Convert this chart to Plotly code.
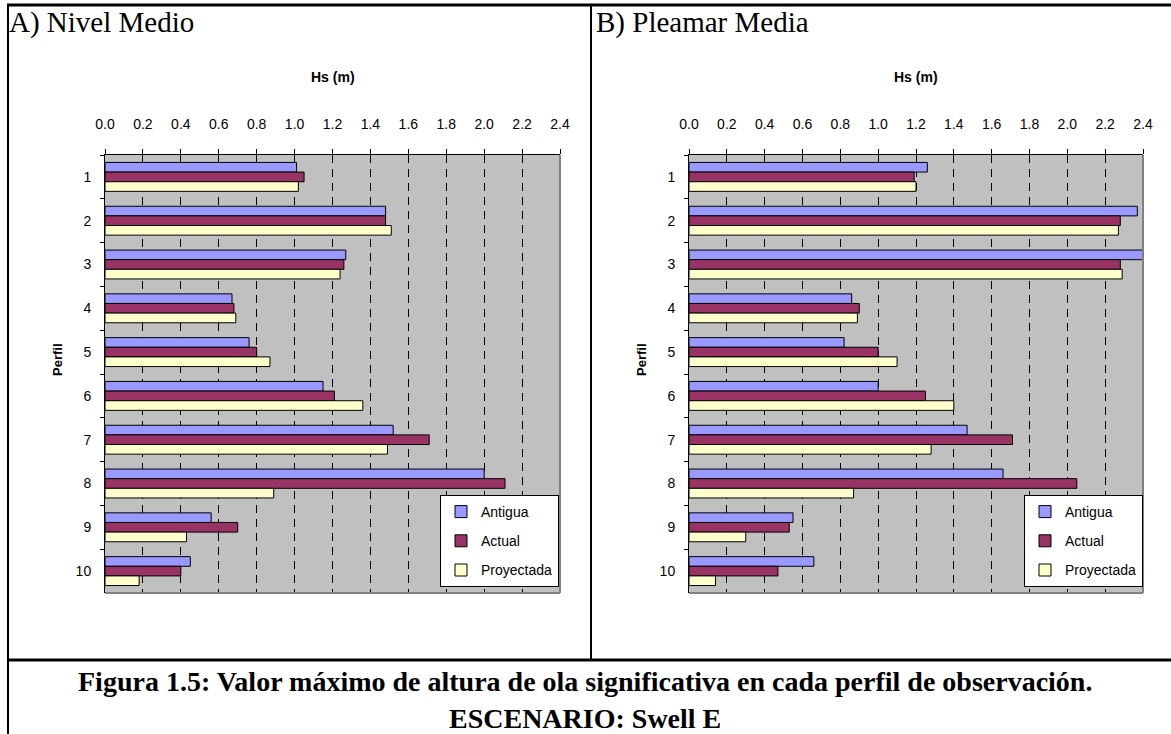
import plotly.graph_objects as go

W, H = 1171, 734

perfiles = ["1", "2", "3", "4", "5", "6", "7", "8", "9", "10"]
series_names = ["Antigua", "Actual", "Proyectada"]
series_colors = ["#9999FF", "#993366", "#FFFFCC"]

# A) Nivel Medio
nivel_antigua = [1.01, 1.48, 1.27, 0.67, 0.76, 1.15, 1.52, 2.00, 0.56, 0.45]
nivel_actual = [1.05, 1.48, 1.26, 0.68, 0.80, 1.21, 1.71, 2.11, 0.70, 0.40]
nivel_proyectada = [1.02, 1.51, 1.24, 0.69, 0.87, 1.36, 1.49, 0.89, 0.43, 0.18]

# B) Pleamar Media
pleamar_antigua = [1.26, 2.37, 2.42, 0.86, 0.82, 1.00, 1.47, 1.66, 0.55, 0.66]
pleamar_actual = [1.19, 2.28, 2.28, 0.90, 1.00, 1.25, 1.71, 2.05, 0.53, 0.47]
pleamar_proyectada = [1.20, 2.27, 2.29, 0.89, 1.10, 1.40, 1.28, 0.87, 0.30, 0.14]

x_ticks = [0.0, 0.2, 0.4, 0.6, 0.8, 1.0, 1.2, 1.4, 1.6, 1.8, 2.0, 2.2, 2.4]

panel_titles = ["A) Nivel Medio", "B) Pleamar Media"]
x_title = "Hs (m)"
y_title = "Perfil"
caption_1 = "Figura 1.5: Valor máximo de altura de ola significativa en cada perfil de observación."
caption_2 = "ESCENARIO: Swell E"

SANS = "Liberation Sans, Arial, sans-serif"
SERIF = "Liberation Serif, Times New Roman, serif"


def px(x):
    return x / W


def py(y):
    return 1 - y / H


fig = go.Figure()

panels = [
    ([nivel_antigua, nivel_actual, nivel_proyectada], "x", "y", "legend"),
    ([pleamar_antigua, pleamar_actual, pleamar_proyectada], "x2", "y2", "legend2"),
]
for vals, xa, ya, lg in panels:
    for name, color, v in zip(series_names, series_colors, vals):
        fig.add_trace(go.Bar(
            x=v, y=perfiles, orientation="h", name=name,
            marker=dict(color=color, line=dict(color="black", width=1)),
            xaxis=xa, yaxis=ya, legend=lg, legendgroup=name + lg,
            hoverinfo="x+name",
        ))

plot_top, plot_bottom = 155, 593
x_domains = [(105, 560), (689, 1143)]

axis_common_x = dict(
    range=[0, 2.4], side="top", tickvals=x_ticks, tickformat=".1f",
    ticks="outside", ticklen=5, tickcolor="black", tickwidth=1,
    showline=True, linecolor="black", linewidth=1,
    showgrid=True, gridcolor="black", gridwidth=1, griddash="8px,6px",
    tickfont=dict(family=SANS, size=14, color="black"),
    ticklabelstandoff=14, zeroline=False, fixedrange=True, automargin=False,
)
axis_common_y = dict(
    type="category", categoryorder="array", categoryarray=perfiles,
    autorange="reversed", ticks="outside", ticklen=4, tickcolor="black",
    tickson="boundaries", showline=True, linecolor="black", linewidth=1,
    showgrid=False, tickfont=dict(family=SANS, size=14, color="black"),
    ticklabelstandoff=10, fixedrange=True, automargin=False,
)

legend_common = dict(
    xanchor="left", yanchor="top", bgcolor="white", bordercolor="black", borderwidth=1,
    font=dict(family=SANS, size=14, color="black"),
    tracegroupgap=8, traceorder="grouped", itemwidth=30,
)

fig.update_layout(
    width=W, height=H, margin=dict(l=0, r=0, t=0, b=0, pad=0, autoexpand=False),
    paper_bgcolor="white", plot_bgcolor="#C0C0C0",
    barmode="group", bargap=0.34, bargroupgap=0,
    xaxis=dict(domain=[px(x_domains[0][0]), px(x_domains[0][1])], anchor="y", **axis_common_x),
    yaxis=dict(domain=[py(plot_bottom), py(plot_top)], anchor="x", **axis_common_y),
    xaxis2=dict(domain=[px(x_domains[1][0]), px(x_domains[1][1])], anchor="y2", **axis_common_x),
    yaxis2=dict(domain=[py(plot_bottom), py(plot_top)], anchor="x2", **axis_common_y),
    legend=dict(x=px(440), y=py(495), **legend_common),
    legend2=dict(x=px(1024), y=py(495), **legend_common),
    showlegend=True,
)

annotations = []
# panel titles
for title, x0 in zip(panel_titles, [7, 594]):
    annotations.append(dict(text=title, x=px(x0), y=py(23), xref="paper", yref="paper",
                            xanchor="left", yanchor="middle", showarrow=False,
                            font=dict(family=SERIF, size=29, color="black")))
# axis titles
for (x0, x1) in x_domains:
    annotations.append(dict(text="<b>" + x_title + "</b>", x=px((x0 + x1) / 2), y=py(77),
                            xref="paper", yref="paper", xanchor="center", yanchor="middle",
                            showarrow=False, font=dict(family=SANS, size=14, color="black")))
for xc in [57, 641]:
    annotations.append(dict(text="<b>" + y_title + "</b>", x=px(xc), y=py(360),
                            xref="paper", yref="paper", xanchor="center", yanchor="middle",
                            textangle=-90, showarrow=False,
                            font=dict(family=SANS, size=13, color="black")))
# caption
annotations.append(dict(text="<b>" + caption_1 + "</b>", x=px(585), y=py(681),
                        xref="paper", yref="paper", xanchor="center", yanchor="middle",
                        showarrow=False, font=dict(family=SERIF, size=28, color="black")))
annotations.append(dict(text="<b>" + caption_2 + "</b>", x=px(585), y=py(718),
                        xref="paper", yref="paper", xanchor="center", yanchor="middle",
                        showarrow=False, font=dict(family=SERIF, size=28, color="black")))
fig.update_layout(annotations=annotations)

shapes = []
# frame lines
shapes.append(dict(type="line", xref="paper", yref="paper", x0=px(7), x1=1, y0=py(5), y1=py(5),
                   line=dict(color="black", width=3)))
shapes.append(dict(type="line", xref="paper", yref="paper", x0=px(8), x1=px(8), y0=py(4), y1=0,
                   line=dict(color="black", width=2)))
shapes.append(dict(type="line", xref="paper", yref="paper", x0=px(591), x1=px(591), y0=py(5), y1=py(660),
                   line=dict(color="black", width=2)))
shapes.append(dict(type="line", xref="paper", yref="paper", x0=px(8), x1=1, y0=py(660), y1=py(660),
                   line=dict(color="black", width=3)))
# plot-area grey border (right and bottom)
for xr, yr in [("x domain", "y domain"), ("x2 domain", "y2 domain")]:
    shapes.append(dict(type="line", xref=xr, yref=yr, x0=1, x1=1, y0=0, y1=1,
                       line=dict(color="#808080", width=2)))
    shapes.append(dict(type="line", xref=xr, yref=yr, x0=0, x1=1, y0=0, y1=0,
                       line=dict(color="#808080", width=2)))
fig.update_layout(shapes=shapes)

fig.write_html("out.html", config={"displayModeBar": False},
               post_script="document.body.style.margin='0';")
